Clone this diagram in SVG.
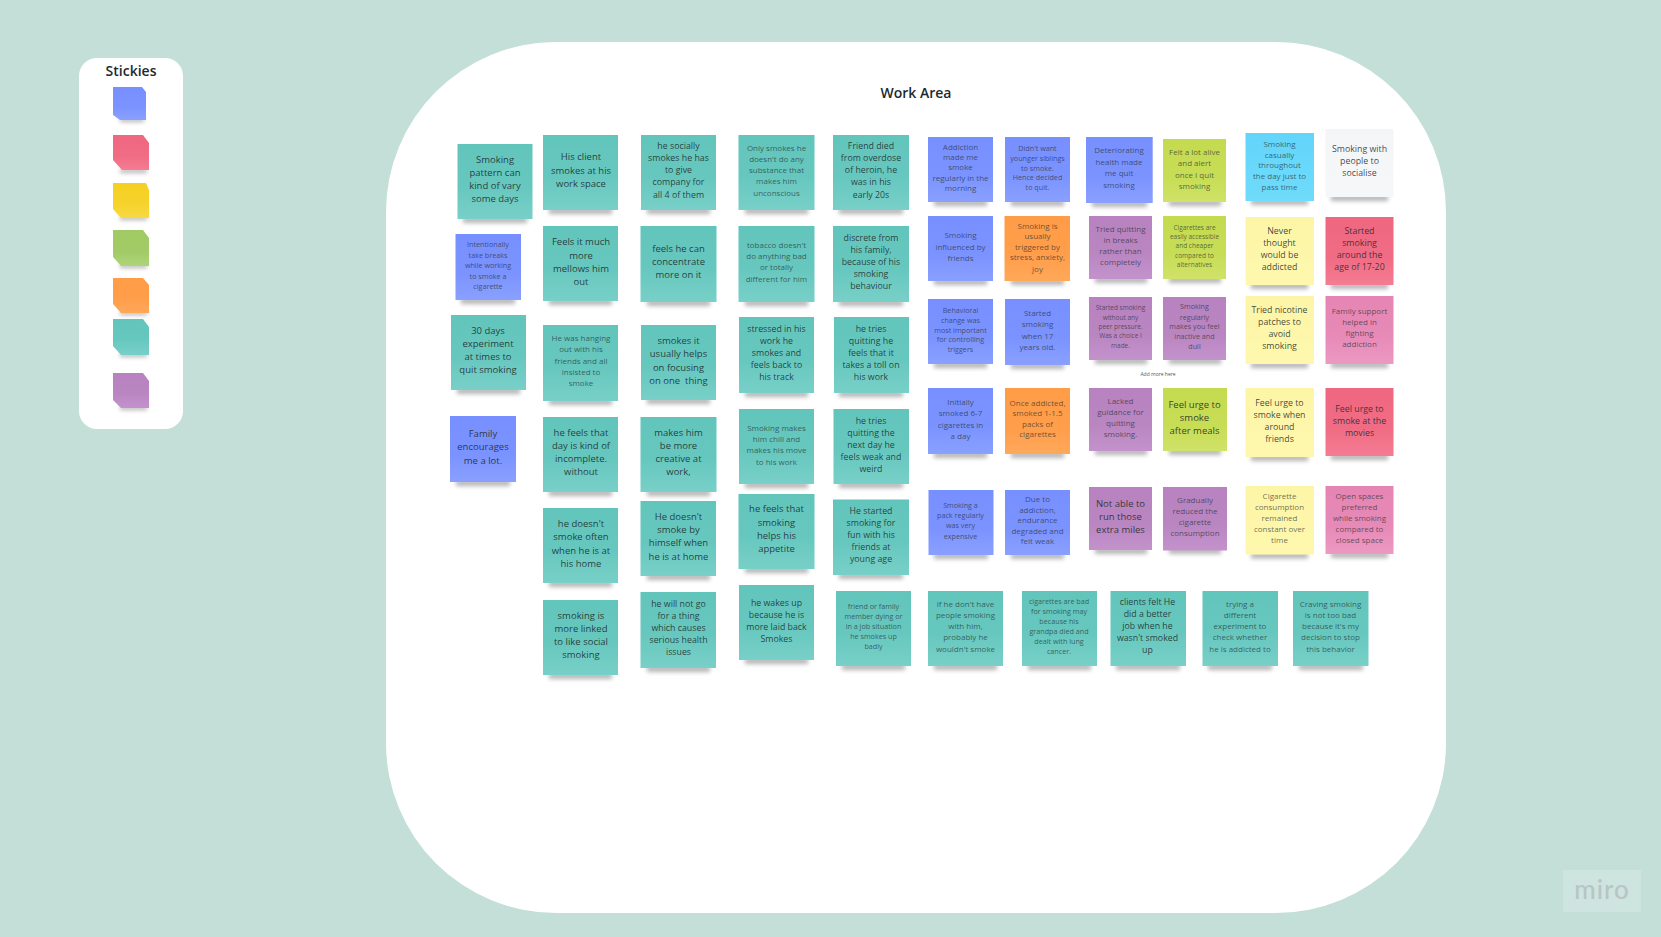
<svg xmlns="http://www.w3.org/2000/svg" width="1661" height="937" viewBox="0 0 1661 937">
<style>
text{font-family:"Open Sans","Noto Sans","Liberation Sans",sans-serif;text-anchor:middle;fill:#1c2a2a}
.a{font-size:9.5px;fill-opacity:.88}
.b{font-size:8.8px;fill-opacity:.85}
.c{font-size:8px;fill-opacity:.68}
.d{font-size:7.2px;fill-opacity:.68}
.sh{fill:#333;opacity:.36;filter:url(#blur)}
.teal{fill:url(#gt)}.blue{fill:url(#gb)}.purple{fill:url(#gp)}.lime{fill:url(#gl)}.yellow{fill:url(#gy)}.red{fill:url(#gr)}.pink{fill:url(#gk)}.orange{fill:url(#go)}.cyan{fill:url(#gc)}.white{fill:url(#gw)}.gold{fill:url(#gg)}.green{fill:url(#gn)}
</style>
<defs>
<filter id="blur" x="-20%" y="-120%" width="140%" height="340%"><feGaussianBlur stdDeviation="2.2"/></filter>
<linearGradient id="gt" x1="0" y1="0" x2="0" y2="1"><stop offset="0" stop-color="#62c5bc"/><stop offset=".55" stop-color="#66c7be"/><stop offset="1" stop-color="#78d0c8"/></linearGradient>
<linearGradient id="gb" x1="0" y1="0" x2="0" y2="1"><stop offset="0" stop-color="#7890ff"/><stop offset=".6" stop-color="#7b93ff"/><stop offset="1" stop-color="#8aa0ff"/></linearGradient>
<linearGradient id="gp" x1="0" y1="0" x2="0" y2="1"><stop offset="0" stop-color="#b782bf"/><stop offset=".6" stop-color="#ba86c2"/><stop offset="1" stop-color="#c392cb"/></linearGradient>
<linearGradient id="gl" x1="0" y1="0" x2="0" y2="1"><stop offset="0" stop-color="#c4db50"/><stop offset=".6" stop-color="#c7dd55"/><stop offset="1" stop-color="#d0e268"/></linearGradient>
<linearGradient id="gy" x1="0" y1="0" x2="0" y2="1"><stop offset="0" stop-color="#fdf5a6"/><stop offset="1" stop-color="#fef8ae"/></linearGradient>
<linearGradient id="gr" x1="0" y1="0" x2="0" y2="1"><stop offset="0" stop-color="#ef6780"/><stop offset=".6" stop-color="#f06c84"/><stop offset="1" stop-color="#f47c92"/></linearGradient>
<linearGradient id="gk" x1="0" y1="0" x2="0" y2="1"><stop offset="0" stop-color="#e585b3"/><stop offset=".6" stop-color="#e78ab7"/><stop offset="1" stop-color="#ec99c2"/></linearGradient>
<linearGradient id="go" x1="0" y1="0" x2="0" y2="1"><stop offset="0" stop-color="#ff9c47"/><stop offset=".6" stop-color="#ff9e4b"/><stop offset="1" stop-color="#ffa85a"/></linearGradient>
<linearGradient id="gc" x1="0" y1="0" x2="0" y2="1"><stop offset="0" stop-color="#62d5fa"/><stop offset="1" stop-color="#70dbfa"/></linearGradient>
<linearGradient id="gw" x1="0" y1="0" x2="0" y2="1"><stop offset="0" stop-color="#f4f5f7"/><stop offset="1" stop-color="#f6f7f9"/></linearGradient>
<linearGradient id="gg" x1="0" y1="0" x2="0" y2="1"><stop offset="0" stop-color="#f6d022"/><stop offset=".6" stop-color="#f6d22c"/><stop offset="1" stop-color="#f7d944"/></linearGradient>
<linearGradient id="gn" x1="0" y1="0" x2="0" y2="1"><stop offset="0" stop-color="#a0ca64"/><stop offset=".6" stop-color="#a2cb66"/><stop offset="1" stop-color="#aed47a"/></linearGradient>
</defs>

<rect width="1661" height="937" fill="#c4dfd7"/>
<rect id="work-area" x="386" y="42" width="1060" height="871" rx="170" ry="170" fill="#fff"/>
<text x="916" y="98" style="font-size:14px;font-weight:600;fill:#1c2a2f">Work Area</text>

<g id="palette">
<rect x="79" y="58" width="104" height="371" rx="18" fill="#fff"/>
<text x="131" y="76" style="font-size:14px;font-weight:600;fill:#1c2a2f">Stickies</text>
<rect class="sh" x="120" y="118" width="24" height="4"/>
<polygon class="blue" points="113,87 142,87 146,92 146,120 120,120 113,115"/>
<rect class="sh" x="120" y="169" width="27" height="4"/>
<polygon class="red" points="113,135 143,135 149,143 149,170 122,170 113,160"/>
<rect class="sh" x="120" y="216" width="27" height="4"/>
<polygon class="gold" points="113,183 146,183 149,190 149,218 121,218 113,209"/>
<rect class="sh" x="120" y="264" width="27" height="4"/>
<polygon class="green" points="113,230 143,230 149,238 149,266 121,266 113,257"/>
<rect class="sh" x="120" y="311" width="27" height="4"/>
<polygon class="orange" points="113,278 143,278 149,285 149,313 121,313 113,304"/>
<rect class="sh" x="120" y="353" width="27" height="4"/>
<polygon class="teal" points="113,319 143,319 149,327 149,355 121,355 113,346"/>
<rect class="sh" x="120" y="406" width="27" height="4"/>
<polygon class="purple" points="113,373 143,373 149,381 149,408 121,408 113,400"/>
</g>

<g id="s-a1"><rect class="sh" x="463" y="217" width="64" height="6"/><rect class="teal" x="457.5" y="144" width="75" height="75"/><text class="a"><tspan x="495" y="163">Smoking</tspan><tspan x="495" y="176">pattern can</tspan><tspan x="495" y="189">kind of vary</tspan><tspan x="495" y="202">some days</tspan></text></g>
<g id="s-a2"><rect class="sh" x="461" y="298" width="54" height="6"/><rect class="blue" x="455.5" y="234" width="65.5" height="66"/><text class="d"><tspan x="488" y="247">Intentionally</tspan><tspan x="488" y="257.5">take breaks</tspan><tspan x="488" y="268">while working</tspan><tspan x="488" y="278.5">to smoke a</tspan><tspan x="488" y="289">cigarette</tspan></text></g>
<g id="s-a3"><rect class="sh" x="457" y="388" width="63" height="6"/><rect class="teal" x="451" y="315" width="75" height="75"/><text class="a"><tspan x="488" y="334">30 days</tspan><tspan x="488" y="347">experiment</tspan><tspan x="488" y="360">at times to</tspan><tspan x="488" y="373">quit smoking</tspan></text></g>
<g id="s-a4"><rect class="sh" x="456" y="480" width="54" height="6"/><rect class="blue" x="450" y="416" width="66" height="66"/><text class="a"><tspan x="483" y="437">Family</tspan><tspan x="483" y="450">encourages</tspan><tspan x="483" y="464">me a lot.</tspan></text></g>

<g id="s-b1"><rect class="sh" x="549" y="208" width="63" height="6"/><rect class="teal" x="543" y="135" width="75" height="75"/><text class="a"><tspan x="581" y="160">His client</tspan><tspan x="581" y="174">smokes at his</tspan><tspan x="581" y="187">work space</tspan></text></g>
<g id="s-b2"><rect class="sh" x="549" y="299" width="63" height="6"/><rect class="teal" x="543" y="226" width="75" height="75"/><text class="a"><tspan x="581" y="245">Feels it much</tspan><tspan x="581" y="259">more</tspan><tspan x="581" y="272">mellows him</tspan><tspan x="581" y="285">out</tspan></text></g>
<g id="s-b3"><rect class="sh" x="549" y="399" width="63" height="6"/><rect class="teal" x="543" y="325" width="75" height="76"/><text class="c"><tspan x="581" y="341">He was hanging</tspan><tspan x="581" y="352">out with his</tspan><tspan x="581" y="363.5">friends and all</tspan><tspan x="581" y="375">insisted to</tspan><tspan x="581" y="386">smoke</tspan></text></g>
<g id="s-b4"><rect class="sh" x="549" y="490" width="63" height="6"/><rect class="teal" x="543" y="417" width="75" height="75"/><text class="a"><tspan x="581" y="436">he feels that</tspan><tspan x="581" y="449">day is kind of</tspan><tspan x="581" y="462">incomplete.</tspan><tspan x="581" y="475">without</tspan></text></g>
<g id="s-b5"><rect class="sh" x="549" y="581" width="63" height="6"/><rect class="teal" x="543" y="508" width="75" height="75"/><text class="a"><tspan x="581" y="527">he doesn't</tspan><tspan x="581" y="540">smoke often</tspan><tspan x="581" y="554">when he is at</tspan><tspan x="581" y="567">his home</tspan></text></g>
<g id="s-b6"><rect class="sh" x="549" y="673" width="63" height="6"/><rect class="teal" x="543" y="600" width="75" height="75"/><text class="a"><tspan x="581" y="619">smoking is</tspan><tspan x="581" y="632">more linked</tspan><tspan x="581" y="645">to like social</tspan><tspan x="581" y="658">smoking</tspan></text></g>

<g id="s-c1"><rect class="sh" x="647" y="208" width="63" height="6"/><rect class="teal" x="641" y="135" width="75" height="75"/><text class="b"><tspan x="678.5" y="149">he socially</tspan><tspan x="678.5" y="161">smokes he has</tspan><tspan x="678.5" y="173">to give</tspan><tspan x="678.5" y="185">company for</tspan><tspan x="678.5" y="198">all 4 of them</tspan></text></g>
<g id="s-c2"><rect class="sh" x="647" y="300" width="63" height="6"/><rect class="teal" x="640.5" y="226" width="76" height="76"/><text class="a"><tspan x="678.5" y="252">feels he can</tspan><tspan x="678.5" y="265">concentrate</tspan><tspan x="678.5" y="278">more on it</tspan></text></g>
<g id="s-c3"><rect class="sh" x="647" y="398" width="63" height="6"/><rect class="teal" x="641" y="325" width="75" height="75"/><text class="a"><tspan x="678.5" y="344">smokes it</tspan><tspan x="678.5" y="357">usually helps</tspan><tspan x="678.5" y="371">on focusing</tspan><tspan x="678.5" y="384" style="white-space:pre">on one  thing</tspan></text></g>
<g id="s-c4"><rect class="sh" x="647" y="490" width="63" height="6"/><rect class="teal" x="640.5" y="417" width="76" height="75"/><text class="a"><tspan x="678.5" y="436">makes him</tspan><tspan x="678.5" y="449">be more</tspan><tspan x="678.5" y="462">creative at</tspan><tspan x="678.5" y="475">work,</tspan></text></g>
<g id="s-c5"><rect class="sh" x="647" y="574" width="63" height="6"/><rect class="teal" x="640.5" y="501" width="75.5" height="75"/><text class="a"><tspan x="678.5" y="520">He doesn't</tspan><tspan x="678.5" y="533">smoke by</tspan><tspan x="678.5" y="546">himself when</tspan><tspan x="678.5" y="560">he is at home</tspan></text></g>
<g id="s-c6"><rect class="sh" x="647" y="666" width="63" height="6"/><rect class="teal" x="640.5" y="592" width="75.5" height="76"/><text class="b"><tspan x="678.5" y="607">he will not go</tspan><tspan x="678.5" y="619">for a thing</tspan><tspan x="678.5" y="631">which causes</tspan><tspan x="678.5" y="643">serious health</tspan><tspan x="678.5" y="655">issues</tspan></text></g>

<g id="s-d1"><rect class="sh" x="745" y="208" width="63" height="6"/><rect class="teal" x="738.5" y="135" width="76" height="75"/><text class="c"><tspan x="776.5" y="151">Only smokes he</tspan><tspan x="776.5" y="162">doesn't do any</tspan><tspan x="776.5" y="173">substance that</tspan><tspan x="776.5" y="184">makes him</tspan><tspan x="776.5" y="196">unconscious</tspan></text></g>
<g id="s-d2"><rect class="sh" x="745" y="300" width="63" height="6"/><rect class="teal" x="738.5" y="226" width="76" height="76"/><text class="c"><tspan x="776.5" y="248">tobacco doesn't</tspan><tspan x="776.5" y="259">do anything bad</tspan><tspan x="776.5" y="270">or totally</tspan><tspan x="776.5" y="282">different for him</tspan></text></g>
<g id="s-d3"><rect class="sh" x="745" y="391" width="63" height="6"/><rect class="teal" x="739" y="317" width="75" height="76"/><text class="b"><tspan x="776.5" y="332">stressed in his</tspan><tspan x="776.5" y="344">work he</tspan><tspan x="776.5" y="356">smokes and</tspan><tspan x="776.5" y="368">feels back to</tspan><tspan x="776.5" y="380">his track</tspan></text></g>
<g id="s-d4"><rect class="sh" x="745" y="482" width="63" height="6"/><rect class="teal" x="739" y="409" width="75" height="75"/><text class="c"><tspan x="776.5" y="431">Smoking makes</tspan><tspan x="776.5" y="442">him chill and</tspan><tspan x="776.5" y="453">makes his move</tspan><tspan x="776.5" y="465">to his work</tspan></text></g>
<g id="s-d5"><rect class="sh" x="745" y="567" width="63" height="6"/><rect class="teal" x="738.5" y="494" width="76" height="75"/><text class="a"><tspan x="776.5" y="512">he feels that</tspan><tspan x="776.5" y="526">smoking</tspan><tspan x="776.5" y="539">helps his</tspan><tspan x="776.5" y="552">appetite</tspan></text></g>
<g id="s-d6"><rect class="sh" x="745" y="658" width="63" height="6"/><rect class="teal" x="739" y="585" width="75" height="75"/><text class="b"><tspan x="776.5" y="606">he wakes up</tspan><tspan x="776.5" y="618">because he is</tspan><tspan x="776.5" y="630">more laid back</tspan><tspan x="776.5" y="642">Smokes</tspan></text></g>

<g id="s-e1"><rect class="sh" x="839" y="208" width="64" height="6"/><rect class="teal" x="833" y="135" width="76" height="75"/><text class="b"><tspan x="871" y="149">Friend died</tspan><tspan x="871" y="161">from overdose</tspan><tspan x="871" y="173">of heroin, he</tspan><tspan x="871" y="185">was in his</tspan><tspan x="871" y="198">early 20s</tspan></text></g>
<g id="s-e2"><rect class="sh" x="839" y="300" width="64" height="6"/><rect class="teal" x="833" y="226" width="76" height="76"/><text class="b"><tspan x="871" y="241">discrete from</tspan><tspan x="871" y="253">his family,</tspan><tspan x="871" y="265">because of his</tspan><tspan x="871" y="277">smoking</tspan><tspan x="871" y="289">behaviour</tspan></text></g>
<g id="s-e3"><rect class="sh" x="839" y="391" width="64" height="6"/><rect class="teal" x="834" y="317" width="75" height="76"/><text class="b"><tspan x="871" y="332">he tries</tspan><tspan x="871" y="344">quitting he</tspan><tspan x="871" y="356">feels that it</tspan><tspan x="871" y="368">takes a toll on</tspan><tspan x="871" y="380">his work</tspan></text></g>
<g id="s-e4"><rect class="sh" x="839" y="482" width="64" height="6"/><rect class="teal" x="833.5" y="409" width="75.5" height="75"/><text class="b"><tspan x="871" y="424">he tries</tspan><tspan x="871" y="436">quitting the</tspan><tspan x="871" y="448">next day he</tspan><tspan x="871" y="460">feels weak and</tspan><tspan x="871" y="472">weird</tspan></text></g>
<g id="s-e5"><rect class="sh" x="839" y="573" width="64" height="6"/><rect class="teal" x="833" y="499.5" width="76" height="75.5"/><text class="b"><tspan x="871" y="514">He started</tspan><tspan x="871" y="526">smoking for</tspan><tspan x="871" y="538">fun with his</tspan><tspan x="871" y="550">friends at</tspan><tspan x="871" y="562">young age</tspan></text></g>
<g id="s-e6"><rect class="sh" x="842" y="664" width="63" height="6"/><rect class="teal" x="836" y="591" width="75" height="75"/><text class="d"><tspan x="873.5" y="609">friend or family</tspan><tspan x="873.5" y="619">member dying or</tspan><tspan x="873.5" y="629">in a job situation</tspan><tspan x="873.5" y="639">he smokes up</tspan><tspan x="873.5" y="649">badly</tspan></text></g>

<g id="s-f1"><rect class="sh" x="934" y="200" width="53" height="6"/><rect class="blue" x="928" y="137" width="65" height="65"/><text class="c"><tspan x="960.5" y="150">Addiction</tspan><tspan x="960.5" y="160">made me</tspan><tspan x="960.5" y="170">smoke</tspan><tspan x="960.5" y="181">regularly in the</tspan><tspan x="960.5" y="191">morning</tspan></text></g>
<g id="s-f2"><rect class="sh" x="934" y="279" width="53" height="6"/><rect class="blue" x="928" y="216" width="65" height="65"/><text class="c"><tspan x="960.5" y="238">Smoking</tspan><tspan x="960.5" y="250">influenced by</tspan><tspan x="960.5" y="261">friends</tspan></text></g>
<g id="s-f3"><rect class="sh" x="934" y="362" width="53" height="6"/><rect class="blue" x="928" y="299" width="65" height="65"/><text class="d"><tspan x="960.5" y="313">Behavioral</tspan><tspan x="960.5" y="323">change was</tspan><tspan x="960.5" y="333">most important</tspan><tspan x="960.5" y="342">for controlling</tspan><tspan x="960.5" y="352">triggers</tspan></text></g>
<g id="s-f4"><rect class="sh" x="934" y="452" width="53" height="6"/><rect class="blue" x="928" y="388" width="65" height="66"/><text class="c"><tspan x="960.5" y="405">Initially</tspan><tspan x="960.5" y="416">smoked 6-7</tspan><tspan x="960.5" y="428">cigarettes in</tspan><tspan x="960.5" y="439">a day</tspan></text></g>
<g id="s-f5"><rect class="sh" x="934" y="553" width="54" height="6"/><rect class="blue" x="928.5" y="490" width="65" height="65"/><text class="d"><tspan x="960.5" y="508">Smoking a</tspan><tspan x="960.5" y="518">pack regularly</tspan><tspan x="960.5" y="528">was very</tspan><tspan x="960.5" y="539">expensive</tspan></text></g>
<g id="s-f6"><rect class="sh" x="934" y="664" width="63" height="6"/><rect class="teal" x="928" y="591" width="75" height="75"/><text class="c"><tspan x="965.5" y="607">if he don't have</tspan><tspan x="965.5" y="618">people smoking</tspan><tspan x="965.5" y="629">with him,</tspan><tspan x="965.5" y="640">probably he</tspan><tspan x="965.5" y="652">wouldn't smoke</tspan></text></g>

<g id="s-g1"><rect class="sh" x="1011" y="200" width="53" height="6"/><rect class="blue" x="1005" y="137" width="65" height="65"/><text class="d"><tspan x="1037.5" y="151">Didn't want</tspan><tspan x="1037.5" y="160.5">younger siblings</tspan><tspan x="1037.5" y="170.5">to smoke.</tspan><tspan x="1037.5" y="180">Hence decided</tspan><tspan x="1037.5" y="190">to quit.</tspan></text></g>
<g id="s-g2"><rect class="sh" x="1011" y="279" width="53" height="6"/><rect class="orange" x="1004.5" y="216" width="65.5" height="65"/><text class="c"><tspan x="1037.5" y="229">Smoking is</tspan><tspan x="1037.5" y="239.3">usually</tspan><tspan x="1037.5" y="250">triggered by</tspan><tspan x="1037.5" y="260.3">stress, anxiety,</tspan><tspan x="1037.5" y="271.7">joy</tspan></text></g>
<g id="s-g3"><rect class="sh" x="1011" y="363" width="53" height="6"/><rect class="blue" x="1005" y="299" width="65" height="66"/><text class="c"><tspan x="1037.5" y="316">Started</tspan><tspan x="1037.5" y="327.3">smoking</tspan><tspan x="1037.5" y="339">when 17</tspan><tspan x="1037.5" y="350">years old.</tspan></text></g>
<g id="s-g4"><rect class="sh" x="1011" y="452" width="53" height="6"/><rect class="orange" x="1005" y="388" width="65" height="66"/><text class="c"><tspan x="1037.5" y="406">Once addicted,</tspan><tspan x="1037.5" y="416">smoked 1-1.5</tspan><tspan x="1037.5" y="427.3">packs of</tspan><tspan x="1037.5" y="437.3">cigarettes</tspan></text></g>
<g id="s-g5"><rect class="sh" x="1011" y="553" width="53" height="6"/><rect class="blue" x="1005" y="490" width="65" height="65"/><text class="c"><tspan x="1037.5" y="502">Due to</tspan><tspan x="1037.5" y="513">addiction,</tspan><tspan x="1037.5" y="523">endurance</tspan><tspan x="1037.5" y="534">degraded and</tspan><tspan x="1037.5" y="544">felt weak</tspan></text></g>
<g id="s-g6"><rect class="sh" x="1028" y="664" width="63" height="6"/><rect class="teal" x="1022" y="591" width="75" height="75"/><text class="d"><tspan x="1059" y="604">cigarettes are bad</tspan><tspan x="1059" y="614">for smoking may</tspan><tspan x="1059" y="624">because his</tspan><tspan x="1059" y="634">grandpa died and</tspan><tspan x="1059" y="644">dealt with lung</tspan><tspan x="1059" y="654">cancer.</tspan></text></g>

<g id="s-h1"><rect class="sh" x="1092" y="201" width="55" height="6"/><rect class="blue" x="1086" y="137" width="66.7" height="66"/><text class="c"><tspan x="1119" y="153">Deteriorating</tspan><tspan x="1119" y="165">health made</tspan><tspan x="1119" y="176.3">me quit</tspan><tspan x="1119" y="188.3">smoking</tspan></text></g>
<g id="s-h2"><rect class="sh" x="1095" y="277" width="52" height="6"/><rect class="purple" x="1089" y="216" width="63" height="63"/><text class="c"><tspan x="1120.5" y="232">Tried quitting</tspan><tspan x="1120.5" y="243">in breaks</tspan><tspan x="1120.5" y="254">rather than</tspan><tspan x="1120.5" y="265.3">completely</tspan></text></g>
<g id="s-h3"><rect class="sh" x="1095" y="358" width="52" height="6"/><rect class="purple" x="1089" y="297" width="63" height="63"/><text class="d" style="font-size:6.5px"><tspan x="1120.5" y="310">Started smoking</tspan><tspan x="1120.5" y="319.5">without any</tspan><tspan x="1120.5" y="329">peer pressure.</tspan><tspan x="1120.5" y="338">Was a choice I</tspan><tspan x="1120.5" y="348">made.</tspan></text></g>
<g id="s-h4"><rect class="sh" x="1095" y="449" width="52" height="6"/><rect class="purple" x="1089" y="388" width="63" height="63"/><text class="c"><tspan x="1120.5" y="404">Lacked</tspan><tspan x="1120.5" y="415">guidance for</tspan><tspan x="1120.5" y="426">quitting</tspan><tspan x="1120.5" y="437">smoking.</tspan></text></g>
<g id="s-h5"><rect class="sh" x="1095" y="548" width="52" height="6"/><rect class="purple" x="1089" y="487" width="63" height="63"/><text class="a"><tspan x="1120.5" y="507">Not able to</tspan><tspan x="1120.5" y="520">run those</tspan><tspan x="1120.5" y="533">extra miles</tspan></text></g>
<g id="s-h6"><rect class="sh" x="1116" y="664" width="64" height="6"/><rect class="teal" x="1110.5" y="591" width="75.5" height="75"/><text class="b"><tspan x="1147.5" y="605">clients felt He</tspan><tspan x="1147.5" y="617">did a better</tspan><tspan x="1147.5" y="629">job when he</tspan><tspan x="1147.5" y="641">wasn't smoked</tspan><tspan x="1147.5" y="653">up</tspan></text></g>

<g id="s-i1"><rect class="sh" x="1169" y="200" width="52" height="6"/><rect class="lime" x="1163" y="139" width="63" height="63"/><text class="c"><tspan x="1194.5" y="155">Felt a lot alive</tspan><tspan x="1194.5" y="166">and alert</tspan><tspan x="1194.5" y="178.3">once I quit</tspan><tspan x="1194.5" y="189">smoking</tspan></text></g>
<g id="s-i2"><rect class="sh" x="1169" y="277" width="52" height="6"/><rect class="lime" x="1163" y="216" width="63" height="63"/><text class="d" style="font-size:6.5px"><tspan x="1194.5" y="230">Cigarettes are</tspan><tspan x="1194.5" y="239">easily accessible</tspan><tspan x="1194.5" y="248">and cheaper</tspan><tspan x="1194.5" y="258">compared to</tspan><tspan x="1194.5" y="267">alternatives</tspan></text></g>
<g id="s-i3"><rect class="sh" x="1169" y="358" width="52" height="6"/><rect class="purple" x="1163" y="297" width="63" height="63"/><text class="d"><tspan x="1194.5" y="309">Smoking</tspan><tspan x="1194.5" y="319.5">regularly</tspan><tspan x="1194.5" y="329">makes you feel</tspan><tspan x="1194.5" y="339">inactive and</tspan><tspan x="1194.5" y="349">dull</tspan></text></g>
<g id="s-i4"><rect class="sh" x="1169" y="449" width="52" height="6"/><rect class="lime" x="1163" y="388" width="64" height="63"/><text class="a"><tspan x="1194.5" y="408">Feel urge to</tspan><tspan x="1194.5" y="421">smoke</tspan><tspan x="1194.5" y="434">after meals</tspan></text></g>
<g id="s-i5"><rect class="sh" x="1169" y="548" width="52" height="6"/><rect class="purple" x="1163" y="487" width="64" height="63.5"/><text class="c"><tspan x="1195" y="503">Gradually</tspan><tspan x="1195" y="514">reduced the</tspan><tspan x="1195" y="525">cigarette</tspan><tspan x="1195" y="536">consumption</tspan></text></g>
<g id="s-i6"><rect class="sh" x="1208" y="664" width="64" height="6"/><rect class="teal" x="1202.5" y="591" width="75.5" height="75"/><text class="c"><tspan x="1240" y="607">trying a</tspan><tspan x="1240" y="618">different</tspan><tspan x="1240" y="629">experiment to</tspan><tspan x="1240" y="640">check whether</tspan><tspan x="1240" y="652">he is addicted to</tspan></text></g>

<g id="s-j1"><rect class="sh" x="1251" y="199" width="57" height="6"/><rect class="cyan" x="1245.5" y="133" width="68.5" height="68"/><text class="c"><tspan x="1279.5" y="147">Smoking</tspan><tspan x="1279.5" y="158">casually</tspan><tspan x="1279.5" y="168">throughout</tspan><tspan x="1279.5" y="179">the day just to</tspan><tspan x="1279.5" y="190">pass time</tspan></text></g>
<g id="s-j2"><rect class="sh" x="1251" y="283" width="57" height="6"/><rect class="yellow" x="1245.5" y="217" width="68.5" height="68"/><text class="b"><tspan x="1279.5" y="234">Never</tspan><tspan x="1279.5" y="246">thought</tspan><tspan x="1279.5" y="258">would be</tspan><tspan x="1279.5" y="270">addicted</tspan></text></g>
<g id="s-j3"><rect class="sh" x="1251" y="362" width="57" height="6"/><rect class="yellow" x="1245.5" y="296" width="68.5" height="68"/><text class="b"><tspan x="1279.5" y="313">Tried nicotine</tspan><tspan x="1279.5" y="325">patches to</tspan><tspan x="1279.5" y="337">avoid</tspan><tspan x="1279.5" y="349">smoking</tspan></text></g>
<g id="s-j4"><rect class="sh" x="1251" y="455" width="57" height="6"/><rect class="yellow" x="1245.5" y="388" width="68.5" height="69"/><text class="b"><tspan x="1279.5" y="406">Feel urge to</tspan><tspan x="1279.5" y="418">smoke when</tspan><tspan x="1279.5" y="430">around</tspan><tspan x="1279.5" y="442">friends</tspan></text></g>
<g id="s-j5"><rect class="sh" x="1251" y="552.5" width="57" height="6"/><rect class="yellow" x="1245.5" y="486" width="68.5" height="68.5"/><text class="c"><tspan x="1279.5" y="499">Cigarette</tspan><tspan x="1279.5" y="510">consumption</tspan><tspan x="1279.5" y="521">remained</tspan><tspan x="1279.5" y="532">constant over</tspan><tspan x="1279.5" y="543">time</tspan></text></g>
<g id="s-j6"><rect class="sh" x="1299" y="664" width="64" height="6"/><rect class="teal" x="1293" y="591" width="75.5" height="75"/><text class="c"><tspan x="1330.5" y="607">Craving smoking</tspan><tspan x="1330.5" y="618">is not too bad</tspan><tspan x="1330.5" y="629">because it's my</tspan><tspan x="1330.5" y="640">decision to stop</tspan><tspan x="1330.5" y="652">this behavior</tspan></text></g>

<g id="s-k1"><rect class="sh" x="1331" y="195" width="57" height="6"/><rect class="white" x="1325.5" y="129" width="68" height="68"/><text class="b"><tspan x="1359.5" y="152">Smoking with</tspan><tspan x="1359.5" y="164">people to</tspan><tspan x="1359.5" y="176">socialise</tspan></text></g>
<g id="s-k2"><rect class="sh" x="1331" y="283" width="57" height="6"/><rect class="red" x="1325.5" y="217" width="68" height="68"/><text class="b"><tspan x="1359.5" y="234">Started</tspan><tspan x="1359.5" y="246">smoking</tspan><tspan x="1359.5" y="258">around the</tspan><tspan x="1359.5" y="270">age of 17-20</tspan></text></g>
<g id="s-k3"><rect class="sh" x="1331" y="362" width="57" height="6"/><rect class="pink" x="1325.5" y="296" width="68" height="68"/><text class="c"><tspan x="1359.5" y="314">Family support</tspan><tspan x="1359.5" y="325">helped in</tspan><tspan x="1359.5" y="336">fighting</tspan><tspan x="1359.5" y="347">addiction</tspan></text></g>
<g id="s-k4"><rect class="sh" x="1331" y="454" width="57" height="6"/><rect class="red" x="1325.5" y="388" width="68" height="68"/><text class="b"><tspan x="1359.5" y="412">Feel urge to</tspan><tspan x="1359.5" y="424">smoke at the</tspan><tspan x="1359.5" y="436">movies</tspan></text></g>
<g id="s-k5"><rect class="sh" x="1331" y="552" width="57" height="6"/><rect class="pink" x="1325.5" y="486" width="68" height="68"/><text class="c"><tspan x="1359.5" y="499">Open spaces</tspan><tspan x="1359.5" y="510">preferred</tspan><tspan x="1359.5" y="521">while smoking</tspan><tspan x="1359.5" y="532">compared to</tspan><tspan x="1359.5" y="543">closed space</tspan></text></g>

<text x="1158" y="376" style="font-size:5px;fill:#555">Add more here</text>

<g id="watermark">
<rect x="1563" y="870" width="78" height="42" fill="#cde5de"/>
<text x="1602" y="899" style="font-family:Lato,'Open Sans',sans-serif;font-size:26px;font-weight:500;letter-spacing:1px;fill:#b9c4c5">miro</text>
</g>
</svg>
